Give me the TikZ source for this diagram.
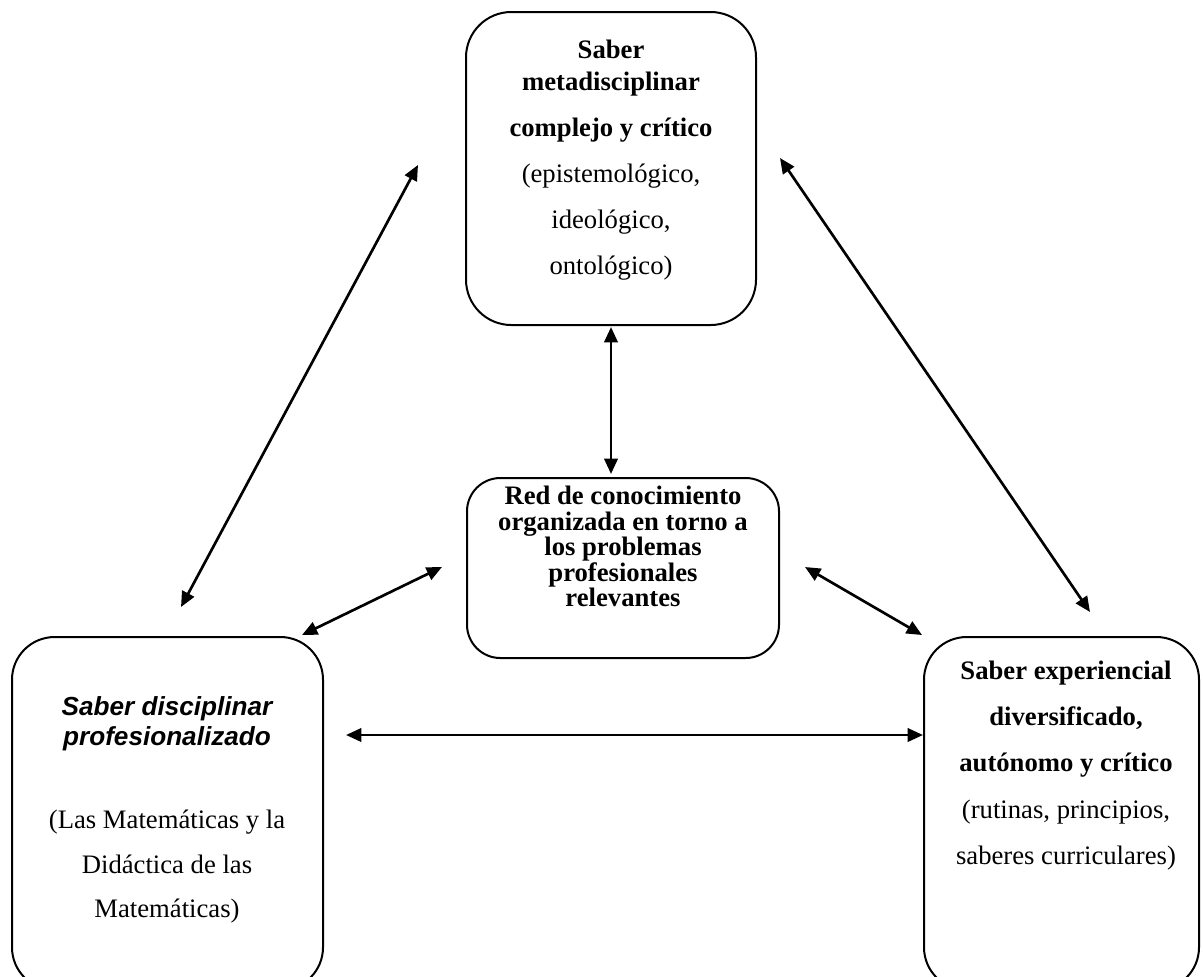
\documentclass[tikz,border=0pt]{standalone}
\usepackage{fontspec}
\setmainfont{Liberation Serif}
\newfontfamily\arialf{Liberation Sans}
\usetikzlibrary{arrows.meta}
\begin{document}
\begin{tikzpicture}[x=0.75pt,y=-0.75pt,
  box/.style={draw,line width=1.5pt,inner sep=0pt,outer sep=0pt},
  ln/.style={anchor=mid,inner sep=0pt,font=\fontsize{20}{23}\selectfont},
  bln/.style={ln,font=\fontsize{20}{23}\selectfont\bfseries},
  sln/.style={ln,font=\fontsize{19.6}{23}\selectfont\arialf\bfseries\itshape},
  conn/.style={line width=2pt,{Triangle[length=11.5pt,width=10pt]}-{Triangle[length=11.5pt,width=10pt]}}]
\useasboundingbox (0,0) rectangle (1203,976);
\begin{scope}
\clip (0,0) rectangle (1203,976);
% boxes
\node[box,rounded corners=34pt,minimum width=217.5pt,minimum height=234.75pt] (top) at (611,168.5) {};
\node[box,rounded corners=25pt,minimum width=234pt,minimum height=135pt] (mid) at (623,568) {};
\node[box,rounded corners=32pt,minimum width=233.25pt,minimum height=264.75pt] (left) at (167.5,813.5) {};
\node[box,rounded corners=32pt,minimum width=206.25pt,minimum height=264.75pt] (right) at (1061.5,813.5) {};
\end{scope}
% top text
\node[bln] (t1) at (611,55) {Saber};
\node[bln] (t2) at (611,87) {metadisciplinar};
\node[bln] (t3) at (611,133) {complejo y crítico};
\node[ln] (t4) at (611,179) {(epistemológico,};
\node[ln] (t5) at (611,225) {ideológico,};
\node[ln] (t6) at (611,271) {ontológico)};
% middle text
\node[bln] (m1) at (623,501) {Red de conocimiento};
\node[bln] (m2) at (623,527) {organizada en torno a};
\node[bln] (m3) at (623,552) {los problemas};
\node[bln] (m4) at (623,578) {profesionales};
\node[bln] (m5) at (623,603) {relevantes};
% left text
\node[sln] (l1) at (167,712) {Saber disciplinar};
\node[sln] (l2) at (167,742) {profesionalizado};
\node[ln] (l3) at (167,825) {(Las Matemáticas y la};
\node[ln] (l4) at (167,870) {Didáctica de las};
\node[ln] (l5) at (167,914) {Matemáticas)};
% right text
\node[bln] (r1) at (1066,676) {Saber experiencial};
\node[bln] (r2) at (1066,722) {diversificado,};
\node[bln] (r3) at (1066,768) {autónomo y crítico};
\node[ln] (r4) at (1066,815) {(rutinas, principios,};
\node[ln] (r5) at (1066,861) {saberes curriculares)};
% arrow end points
\coordinate (tl) at (418,165);
\coordinate (lt) at (181,607);
\coordinate (tr) at (780,158);
\coordinate (rt) at (1090,612);
\coordinate (tb) at (611,327);
\coordinate (mt) at (611,474);
\coordinate (ml) at (442,567);
\coordinate (lm) at (302,635);
\coordinate (mr) at (805,567);
\coordinate (rm) at (922,635);
\coordinate (lr) at (346,735);
\coordinate (rl) at (923,735);
\draw[conn] (tl) -- (lt);
\draw[conn] (tr) -- (rt);
\draw[conn] (tb) -- (mt);
\draw[conn] (ml) -- (lm);
\draw[conn] (mr) -- (rm);
\draw[conn] (lr) -- (rl);
\end{tikzpicture}
\end{document}
